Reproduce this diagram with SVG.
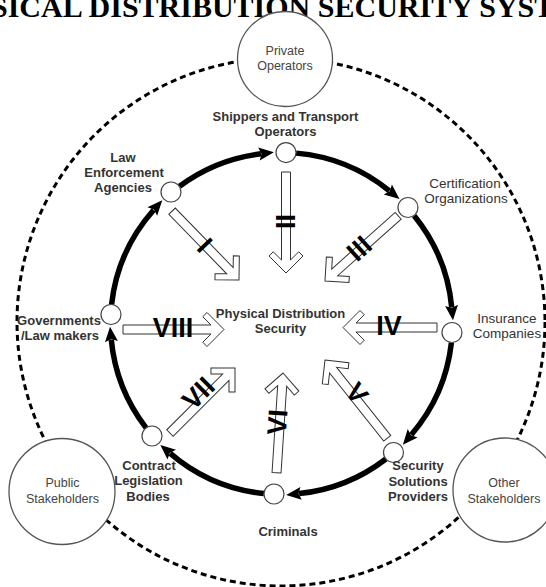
<svg xmlns="http://www.w3.org/2000/svg" width="546" height="587" viewBox="0 0 546 587">
<style>
.title{font-family:"Liberation Serif","Times New Roman",serif;font-weight:bold;font-size:30px;fill:#000}
.lb{font-family:"Liberation Sans",Arial,sans-serif;font-weight:bold;font-size:13px;fill:#333;text-anchor:middle}
.lr{font-family:"Liberation Sans",Arial,sans-serif;font-size:13.5px;fill:#333;text-anchor:middle}
.ls{font-family:"Liberation Sans",Arial,sans-serif;font-size:12.5px;fill:#444;text-anchor:middle}
.num{font-family:"Liberation Sans",Arial,sans-serif;font-weight:bold;font-size:27px;fill:#000;text-anchor:middle}
.stake{fill:#fff;stroke:#555;stroke-width:1.3}
.node{fill:#fff;stroke:#444;stroke-width:1.2}
.ring{fill:none;stroke:#000;stroke-width:5.5;marker-end:url(#ah)}
.blk{fill:#fff;stroke:#333;stroke-width:1}
.dash{fill:none;stroke:#000;stroke-width:3;stroke-dasharray:6 4}
</style>
<defs>
<marker id="ah" markerUnits="userSpaceOnUse" markerWidth="16" markerHeight="14" viewBox="0 0 15 14" refX="2" refY="7" orient="auto">
<path d="M0,0.5 L15,7 L0,13.5 L2.5,7 Z" fill="#000"/>
</marker>
</defs>
<text class="title" x="-9" y="17">SICAL DISTRIBUTION SECURITY SYST</text>
<g id="outer-ring">
<circle class="dash" cx="281" cy="322" r="264"/>
</g>
<g id="private-operators">
<circle class="stake" cx="285" cy="59" r="47.5"/>
<text class="ls" x="285" y="55">Private</text>
<text class="ls" x="285" y="70">Operators</text>
</g>
<g id="public-stakeholders">
<circle class="stake" cx="62" cy="491.5" r="53"/>
<text class="ls" x="62.5" y="487">Public</text>
<text class="ls" x="62.5" y="503">Stakeholders</text>
</g>
<g id="other-stakeholders">
<circle class="stake" cx="505" cy="490" r="52"/>
<text class="ls" x="504" y="487">Other</text>
<text class="ls" x="504" y="503">Stakeholders</text>
</g>
<g id="connectors">
<path class="ring" d="M111.57,304.44 A171,171 0 0 1 153.63,209.97"/>
<path class="ring" d="M179.55,186.22 A171,171 0 0 1 260.96,153.74"/>
<path class="ring" d="M296.11,153.12 A171,171 0 0 1 389.38,190.83"/>
<path class="ring" d="M414.21,215.66 A171,171 0 0 1 451.74,307.41"/>
<path class="ring" d="M451.43,342.56 A171,171 0 0 1 411.34,434.78"/>
<path class="ring" d="M385.84,458.98 A171,171 0 0 1 299.08,493.59"/>
<path class="ring" d="M263.92,493.59 A171,171 0 0 1 170.22,453.34"/>
<path class="ring" d="M146.02,427.84 A171,171 0 0 1 111.26,339.59"/>
<path class="blk" transform="translate(239,280) rotate(45.8)" d="M0,0 L-17,17 L-21.24,12.76 L-12.99,4.5 L-96,4.5 L-96,-4.5 L-12.99,-4.5 L-21.24,-12.76 L-17,-17 Z"/>
<path class="blk" transform="translate(286,273) rotate(90)" d="M0,0 L-17,17 L-21.24,12.76 L-12.99,4.5 L-101,4.5 L-101,-4.5 L-12.99,-4.5 L-21.24,-12.76 L-17,-17 Z"/>
<path class="blk" transform="translate(325,281) rotate(138.3)" d="M0,0 L-17,17 L-21.24,12.76 L-12.99,4.5 L-98,4.5 L-98,-4.5 L-12.99,-4.5 L-21.24,-12.76 L-17,-17 Z"/>
<path class="blk" transform="translate(343,327.5) rotate(180)" d="M0,0 L-17,17 L-21.24,12.76 L-12.99,4.5 L-94,4.5 L-94,-4.5 L-12.99,-4.5 L-21.24,-12.76 L-17,-17 Z"/>
<path class="blk" transform="translate(325,360) rotate(-128.5)" d="M0,0 L-17,17 L-21.24,12.76 L-12.99,4.5 L-100,4.5 L-100,-4.5 L-12.99,-4.5 L-21.24,-12.76 L-17,-17 Z"/>
<path class="blk" transform="translate(283,373) rotate(-86.3)" d="M0,0 L-17,17 L-21.24,12.76 L-12.99,4.5 L-100,4.5 L-100,-4.5 L-12.99,-4.5 L-21.24,-12.76 L-17,-17 Z"/>
<path class="blk" transform="translate(235,368) rotate(-45)" d="M0,0 L-17,17 L-21.24,12.76 L-12.99,4.5 L-92,4.5 L-92,-4.5 L-12.99,-4.5 L-21.24,-12.76 L-17,-17 Z"/>
<path class="blk" transform="translate(224,329.5)" d="M0,0 L-17,17 L-21.24,12.76 L-12.99,4.5 L-101,4.5 L-101,-4.5 L-12.99,-4.5 L-21.24,-12.76 L-17,-17 Z"/>
<text class="num" transform="translate(205,245) rotate(46)" y="9.6">I</text>
<text class="num" transform="translate(286,221.5) rotate(90)" y="9.6">II</text>
<text class="num" transform="translate(359,248) rotate(-42)" y="9.6">III</text>
<text class="num" transform="translate(389,325)" y="9.6">IV</text>
<text class="num" transform="translate(357,393) rotate(51.5)" y="9.6">V</text>
<text class="num" transform="translate(277,422) rotate(-86)" y="9.6">VI</text>
<text class="num" transform="translate(198,393) rotate(-45)" y="9.6">VII</text>
<text class="num" transform="translate(173,327)" y="9.6">VIII</text>
</g>
<g id="shippers">
<circle class="node" cx="286" cy="152.6" r="10"/>
<text class="lb" x="285.5" y="121">Shippers and Transport</text>
<text class="lb" x="285.5" y="136">Operators</text>
</g>
<g id="certification">
<circle class="node" cx="408" cy="207.5" r="10"/>
<text class="lr" x="465" y="188">Certification</text>
<text class="lr" x="466" y="203">Organizations</text>
</g>
<g id="insurance">
<circle class="node" cx="452" cy="332.5" r="10"/>
<text class="lr" x="507" y="323">Insurance</text>
<text class="lr" x="507" y="338">Companies</text>
</g>
<g id="security-providers">
<circle class="node" cx="393.5" cy="452.5" r="10"/>
<text class="lb" x="418" y="470">Security</text>
<text class="lb" x="418" y="485.5">Solutions</text>
<text class="lb" x="418" y="501">Providers</text>
</g>
<g id="criminals">
<circle class="node" cx="274" cy="494" r="10"/>
<text class="lb" x="288" y="536">Criminals</text>
</g>
<g id="contract-bodies">
<circle class="node" cx="152" cy="436" r="10"/>
<text class="lb" x="149" y="469.5">Contract</text>
<text class="lb" x="148.5" y="485">Legislation</text>
<text class="lb" x="148" y="500.5">Bodies</text>
</g>
<g id="governments">
<circle class="node" cx="111" cy="314.5" r="10"/>
<text class="lb" x="59" y="325">Governments</text>
<text class="lb" x="60" y="340">/Law makers</text>
</g>
<g id="law-enforcement">
<circle class="node" cx="171" cy="192" r="10"/>
<text class="lb" x="123" y="162">Law</text>
<text class="lb" x="124" y="177">Enforcement</text>
<text class="lb" x="123" y="192">Agencies</text>
</g>
<g id="center">
<text class="lb" x="280.5" y="318">Physical Distribution</text>
<text class="lb" x="280.5" y="333">Security</text>
</g>
</svg>
